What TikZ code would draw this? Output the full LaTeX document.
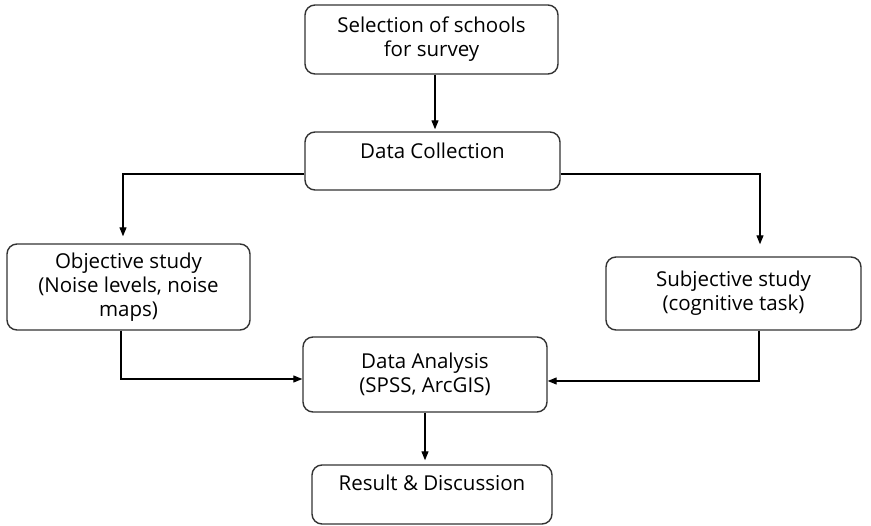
\documentclass[tikz,border=0pt]{standalone}
\usepackage{fontspec}
\setmainfont{Open Sans}
\usepackage[dvipsnames]{xcolor}
\usetikzlibrary{arrows.meta}

\begin{document}
\begin{tikzpicture}[x=1pt,y=-1pt,>={Triangle[length=9pt,width=7pt]},line width=1.2pt,main node/.style={rectangle,rounded corners=10pt,draw=black!80,line width=1.4pt,align=center,inner sep=2pt,font=\fontsize{20.5}{24}\selectfont}]
            \useasboundingbox (0,0) rectangle (871,526);

            \node[main node,minimum width=253pt,minimum height=69pt] (1) at (431.5,39.5) {Selection of schools\\for survey};
            \node[main node,minimum width=255pt,minimum height=58pt,text depth=20pt] (2) at (432.5,161) {Data Collection};

            \node[main node,minimum width=243pt,minimum height=86pt] (3) at (128.5,287) {Objective study\\(Noise levels, noise\\maps)};
            \node[main node,minimum width=255pt,minimum height=73pt] (4) at (733.5,293.5) {Subjective study\\(cognitive task)};

            \node[main node,minimum width=244pt,minimum height=75pt] (5) at (425,374.5) {Data Analysis\\(SPSS, ArcGIS)};
            \node[main node,minimum width=240pt,minimum height=59pt,text depth=24pt] (6) at (432,494.5) {Result \& Discussion};

            \draw[->,shorten >=2pt] ([xshift=3.5pt]1.south) -- ([xshift=3.5pt]1.south |- 2.north);
            \draw[->,shorten >=7pt] ([yshift=-13pt]2.west) -| ([xshift=-5.5pt]3.north);
            \draw[->,shorten >=12pt] ([yshift=-13pt]2.east) -| ([xshift=26.5pt]4.north);
            \draw[->] ([xshift=-7.5pt]3.south) |- ([yshift=-4.5pt]5.west);
            \draw[->] ([xshift=25.5pt]4.south) |- ([yshift=-6.5pt]5.east);
            \draw[->,shorten >=4pt] (5.south) -- (5.south |- 6.north);
        \end{tikzpicture}
\end{document}
